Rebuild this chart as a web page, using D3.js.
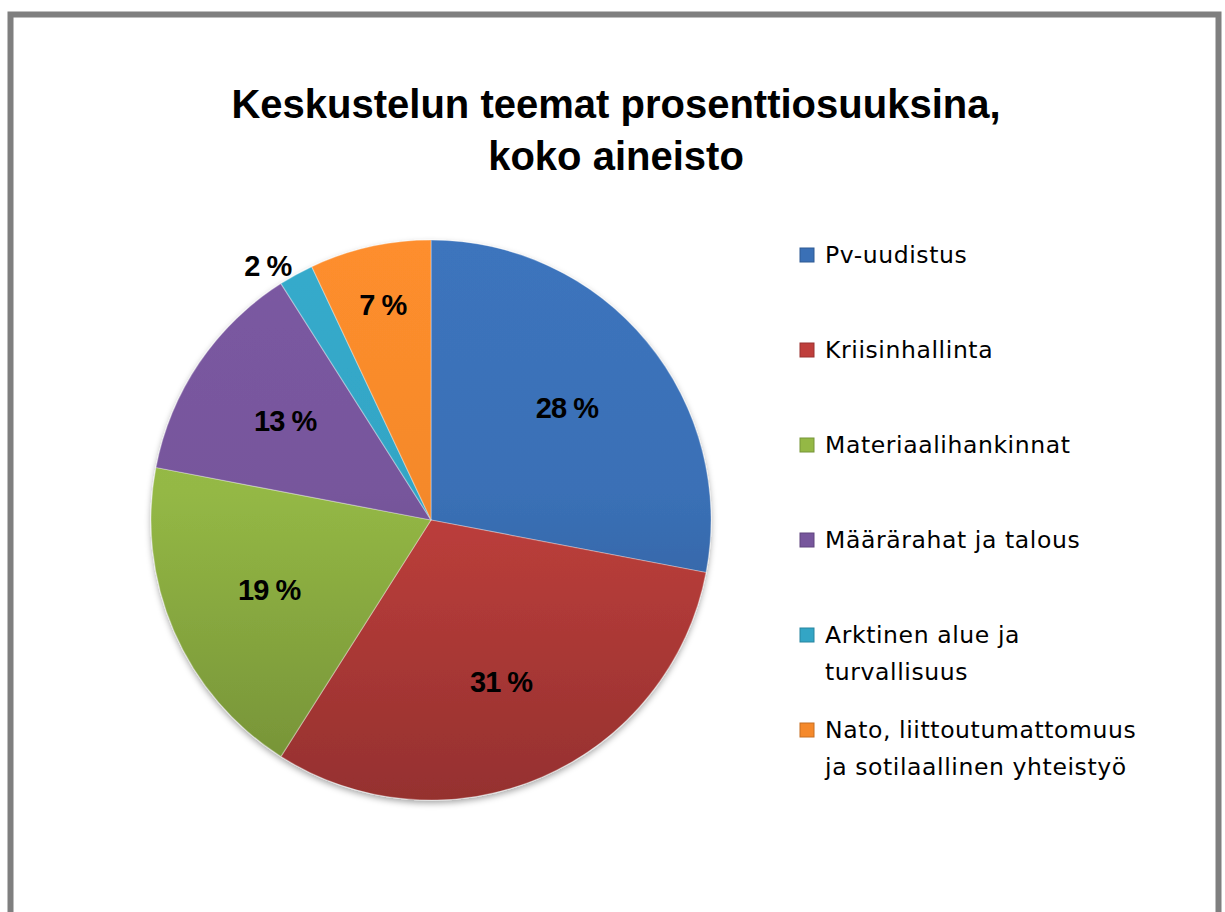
<!DOCTYPE html>
<html>
<head>
<meta charset="utf-8">
<script src="https://cdn.jsdelivr.net/npm/d3@7"></script>
<style>
  html, body { margin: 0; padding: 0; background: #fff; }
</style>
</head>
<body>
<script>
// chart data
const categories = [
  'Pv-uudistus',
  'Kriisinhallinta',
  'Materiaalihankinnat',
  'Määrärahat ja talous',
  'Arktinen alue ja turvallisuus',
  'Nato, liittoutumattomuus ja sotilaallinen yhteistyö',
]
const legendLines = [
  ['Pv-uudistus'],
  ['Kriisinhallinta'],
  ['Materiaalihankinnat'],
  ['Määrärahat ja talous'],
  ['Arktinen alue ja', 'turvallisuus'],
  ['Nato, liittoutumattomuus', 'ja sotilaallinen yhteistyö'],
]
const values = [28, 31, 19, 13, 2, 7]
const colors = ['#3a70b6', '#bf3f3c', '#94b845', '#77569c', '#33a5c5', '#f5892b']
const titleLines = ['Keskustelun teemat prosenttiosuuksina,', 'koko aineisto']

const width = 1225
const height = 912
const cx = 431
const cy = 520
const radius = 280

const svg = d3.select('body').append('svg')
  .attr('width', width)
  .attr('height', height)
  .attr('viewBox', [0, 0, width, height])

const defs = svg.append('defs')

// soft shadow under the pie
const shadow = defs.append('filter')
  .attr('id', 'pieShadow')
  .attr('x', '-10%').attr('y', '-10%')
  .attr('width', '120%').attr('height', '125%')
shadow.append('feDropShadow')
  .attr('dx', 0).attr('dy', 3)
  .attr('stdDeviation', 3)
  .attr('flood-color', '#000')
  .attr('flood-opacity', 0.35)

// vertical gradient per slice, lighter on top, darker at the bottom
// (coordinates are local to the translated pie group)
colors.forEach((c, i) => {
  const g = defs.append('linearGradient')
    .attr('id', 'grad' + i)
    .attr('gradientUnits', 'userSpaceOnUse')
    .attr('x1', 0).attr('x2', 0)
    .attr('y1', -radius).attr('y2', radius)
  g.append('stop').attr('offset', '0%').attr('stop-color', d3.color(c).brighter(0.1))
  g.append('stop').attr('offset', '45%').attr('stop-color', c)
  g.append('stop').attr('offset', '100%').attr('stop-color', d3.color(c).darker(0.7))
})

// outer frame
svg.append('rect')
  .attr('x', 10.5).attr('y', 14.5)
  .attr('width', 1208).attr('height', 920)
  .attr('fill', '#fff')
  .attr('stroke', '#7f7f7f')
  .attr('stroke-width', 6)

// title
svg.append('g')
  .selectAll('text')
  .data(titleLines)
  .join('text')
  .attr('x', 616)
  .attr('y', (d, i) => 118 + i * 52)
  .attr('text-anchor', 'middle')
  .attr('font-family', 'Liberation Sans, Arial, sans-serif')
  .attr('font-weight', 'bold')
  .attr('font-size', 40)
  .attr('fill', '#000')
  .text(d => d)

// pie
const pie = d3.pie().sort(null).value(d => d)
const arcs = pie(values)
const arc = d3.arc().innerRadius(0).outerRadius(radius)

const pieG = svg.append('g')
  .attr('transform', `translate(${cx},${cy})`)

pieG.append('g')
  .attr('filter', 'url(#pieShadow)')
  .selectAll('path')
  .data(arcs)
  .join('path')
  .attr('d', arc)
  .attr('fill', (d, i) => `url(#grad${i})`)
  .attr('stroke', 'rgba(255,255,255,0.3)')
  .attr('stroke-width', 1.2)
  .attr('stroke-linejoin', 'round')

// data labels
const labelFor = d => {
  const share = (d.endAngle - d.startAngle) / (2 * Math.PI)
  const a = (d.startAngle + d.endAngle) / 2
  if (share < 0.04) {
    const r = radius + 10
    return { x: Math.sin(a) * r, y: -Math.cos(a) * r, anchor: Math.sin(a) < 0 ? 'end' : 'start' }
  }
  const r = share < 0.1 ? radius * 0.79 : radius * 0.63
  return { x: Math.sin(a) * r, y: -Math.cos(a) * r, anchor: 'middle' }
}

pieG.append('g')
  .selectAll('text')
  .data(arcs)
  .join('text')
  .each(function(d) {
    const p = labelFor(d)
    d3.select(this)
      .attr('x', p.x)
      .attr('y', p.y)
      .attr('text-anchor', p.anchor)
  })
  .attr('dy', '0.36em')
  .attr('font-family', 'Liberation Sans, Arial, sans-serif')
  .attr('font-weight', 'bold')
  .attr('font-size', 29)
  .attr('letter-spacing', -1)
  .attr('fill', '#000')
  .text(d => `${d.data} %`)

// legend
const legendY = d3.scaleBand()
  .domain(d3.range(categories.length))
  .range([248, 818])

const legend = svg.append('g')
  .selectAll('g')
  .data(categories)
  .join('g')
  .attr('transform', (d, i) => `translate(800,${legendY(i)})`)

legend.append('rect')
  .attr('x', 0)
  .attr('y', 0)
  .attr('width', 14)
  .attr('height', 14)
  .attr('fill', (d, i) => colors[i])
  .attr('stroke', (d, i) => d3.color(colors[i]).darker(0.6))
  .attr('stroke-width', 1)

legend.append('text')
  .attr('font-family', 'DejaVu Sans, Verdana, sans-serif')
  .attr('font-size', 23.5)
  .attr('letter-spacing', 0.6)
  .attr('fill', '#000')
  .selectAll('tspan')
  .data((d, i) => legendLines[i])
  .join('tspan')
  .attr('x', 25)
  .attr('y', (d, j) => 15 + j * 37)
  .text(d => d)
</script>
</body>
</html>
